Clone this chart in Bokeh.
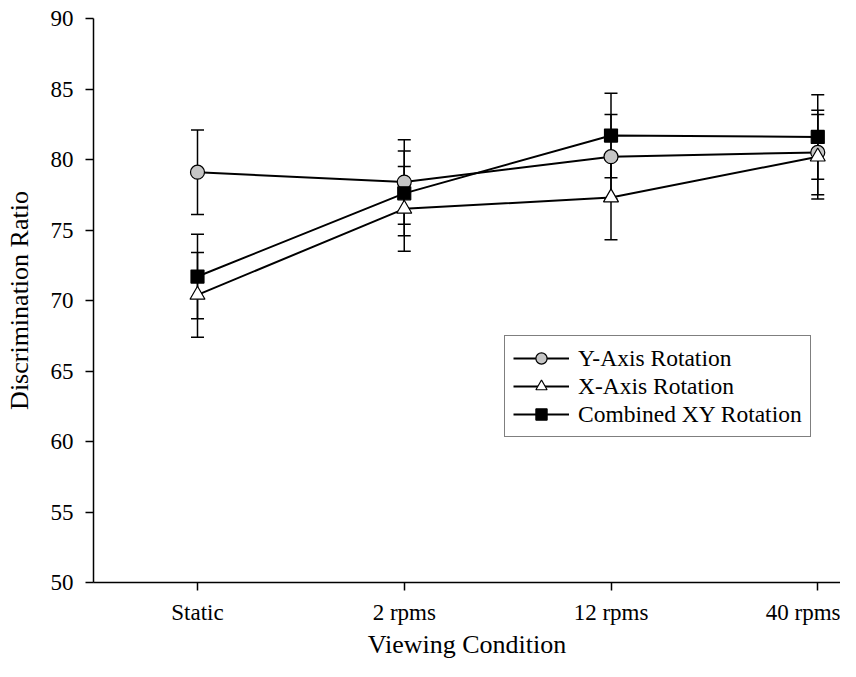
from bokeh.plotting import figure
from bokeh.models import (Range1d, FixedTicker, Whisker, ColumnDataSource, Legend,
                          LegendItem, TeeHead)
from bokeh.embed import file_html
from bokeh.resources import INLINE

# ---- data ----
conditions = ["Static", "2 rpms", "12 rpms", "40 rpms"]
x_pos = [0, 1, 2, 3]
y_axis_rot = [79.1, 78.4, 80.2, 80.5]
y_axis_err = [3.0, 3.0, 3.0, 3.0]
x_axis_rot = [70.4, 76.5, 77.3, 80.2]
x_axis_err = [3.0, 3.0, 3.0, 3.0]
combined_rot = [71.7, 77.6, 81.7, 81.6]
combined_err = [3.0, 3.0, 3.0, 3.0]
y_ticks = [50, 55, 60, 65, 70, 75, 80, 85, 90]

FONT = "Liberation Serif"

p = figure(width=840, height=661, output_backend="svg", toolbar_location=None,
           x_range=Range1d(-0.503, 3.11), y_range=Range1d(50, 90),
           min_border_left=93, min_border_top=18, min_border_bottom=79,
           min_border_right=0)
p.outline_line_color = None
p.xgrid.visible = False
p.ygrid.visible = False
p.background_fill_color = "white"
p.border_fill_color = "white"

# axes
p.xaxis.ticker = FixedTicker(ticks=x_pos)
p.xaxis.major_label_overrides = {x: c for x, c in zip(x_pos, conditions)}
p.yaxis.ticker = FixedTicker(ticks=y_ticks)
for ax in (p.xaxis, p.yaxis):
    ax.axis_line_color = "black"
    ax.axis_line_width = 1.5
    ax.major_tick_line_color = "black"
    ax.major_tick_line_width = 1.5
    ax.major_tick_out = 8
    ax.major_tick_in = 0
    ax.minor_tick_line_color = None
    ax.major_label_text_font = FONT
    ax.major_label_text_font_size = "23px"
    ax.major_label_text_color = "black"
    ax.axis_label_text_font = FONT
    ax.axis_label_text_font_size = "26px"
    ax.axis_label_text_font_style = "normal"
    ax.axis_label_text_color = "black"
p.xaxis.axis_label = "Viewing Condition"
p.yaxis.axis_label = "Discrimination Ratio"
p.xaxis.major_label_standoff = 9
p.xaxis.axis_label_standoff = 2
p.yaxis.major_label_standoff = 12
p.yaxis.axis_label_standoff = 14

series = [
    ("Y-Axis Rotation", y_axis_rot, y_axis_err, "circle", "#c6c6c6", 14),
    ("X-Axis Rotation", x_axis_rot, x_axis_err, "triangle", "white", 15),
    ("Combined XY Rotation", combined_rot, combined_err, "square", "black", 13),
]

# error bars first
for name, vals, errs, marker, fill, size in series:
    src = ColumnDataSource(dict(x=x_pos,
                                upper=[v + e for v, e in zip(vals, errs)],
                                lower=[v - e for v, e in zip(vals, errs)]))
    w = Whisker(base="x", upper="upper", lower="lower", source=src,
                line_color="black", line_width=1.5,
                upper_head=TeeHead(size=13, line_color="black", line_width=1.5),
                lower_head=TeeHead(size=13, line_color="black", line_width=1.5))
    p.add_layout(w)

items = []
for name, vals, errs, marker, fill, size in series:
    src = ColumnDataSource(dict(x=x_pos, y=vals))
    lr = p.line("x", "y", source=src, line_color="black", line_width=2)
    sr = p.scatter("x", "y", source=src, marker=marker, size=size,
                   fill_color=fill, line_color="black", line_width=1.2)
    items.append(LegendItem(label=name, renderers=[lr, sr]))

legend = Legend(items=items, location=(411, 145),
                border_line_color="black", border_line_width=1.5,
                label_text_font=FONT, label_text_font_size="23.5px",
                label_text_color="black",
                glyph_width=56, glyph_height=28, label_height=28,
                padding=8, spacing=0, margin=0, label_standoff=9,
                background_fill_color="white", background_fill_alpha=1)
p.add_layout(legend)

open("out.html", "w").write(file_html(p, INLINE))
